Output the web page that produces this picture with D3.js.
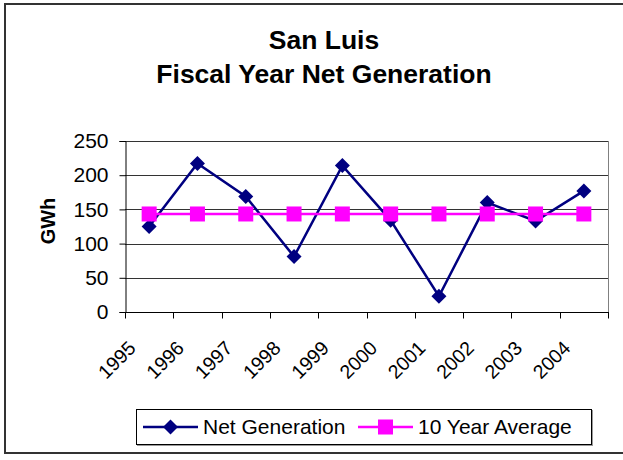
<!DOCTYPE html>
<html>
<head>
<meta charset="utf-8">
<script src="https://cdn.jsdelivr.net/npm/d3@7"></script>
<style>
  html, body { margin: 0; padding: 0; background: #fff; }
  svg { display: block; font-family: "Liberation Sans", Arial, sans-serif; }
</style>
</head>
<body>
<svg id="chart" width="623" height="460"></svg>
<script>
const years = ["1995","1996","1997","1998","1999","2000","2001","2002","2003","2004"];
const netGeneration = [125, 217, 169, 81, 214, 134, 23, 160, 133, 177];
const tenYearAverage = [143.3, 143.3, 143.3, 143.3, 143.3, 143.3, 143.3, 143.3, 143.3, 143.3];
const yTicks = [0, 50, 100, 150, 200, 250];
const titleLines = ["San Luis", "Fiscal Year Net Generation"];
const yTitle = "GWh";
const seriesNames = ["Net Generation", "10 Year Average"];

const svg = d3.select("#chart");
const plot = { left: 125, right: 608, top: 141, bottom: 312 };

// outer frame
svg.append("rect").attr("x", 5).attr("y", 4).attr("width", 640).attr("height", 449)
  .attr("fill", "#fff").attr("stroke", "#333").attr("stroke-width", 2);

const x = d3.scaleBand().domain(years).range([plot.left, plot.right]).padding(0);
const y = d3.scaleLinear().domain([0, 250]).range([plot.bottom, plot.top]);
const cx = d => x(d) + x.bandwidth() / 2;

// gridlines
svg.append("g").selectAll("line").data(yTicks.filter(t => t > 0)).join("line")
  .attr("x1", plot.left).attr("x2", plot.right)
  .attr("y1", d => Math.round(y(d)) + 0.5).attr("y2", d => Math.round(y(d)) + 0.5)
  .attr("stroke", "#333").attr("stroke-width", 1);
// right border
svg.append("line").attr("x1", plot.right + 0.5).attr("x2", plot.right + 0.5)
  .attr("y1", plot.top).attr("y2", plot.bottom).attr("stroke", "#808080");

// y axis
const yAxis = d3.axisLeft(y).tickValues(yTicks).tickSize(6).tickPadding(11);
const gy = svg.append("g").attr("transform", `translate(${plot.left + 0.5},0)`).call(yAxis);
gy.select(".domain").attr("stroke", "#000");
gy.selectAll(".tick line").attr("stroke", "#000");
gy.selectAll(".tick text").attr("font-size", 21).attr("fill", "#000")
  .attr("font-family", "Liberation Sans, Arial, sans-serif");

// x axis with ticks at band boundaries
const gx = svg.append("g").attr("transform", `translate(0,${Math.round(plot.bottom) + 0.5})`);
gx.append("line").attr("x1", plot.left).attr("x2", plot.right + 1).attr("stroke", "#000");
const boundaries = years.map(d => x(d)).concat([plot.right]);
gx.selectAll("line.tk").data(boundaries).join("line").attr("class", "tk")
  .attr("x1", d => Math.round(d) + 0.5).attr("x2", d => Math.round(d) + 0.5)
  .attr("y1", 0).attr("y2", 6).attr("stroke", "#000");
gx.selectAll("text").data(years).join("text")
  .attr("transform", d => `translate(${cx(d) - 17},${32}) rotate(-45)`)
  .attr("text-anchor", "end").attr("dy", "0.35em")
  .attr("font-size", 19.5).attr("fill", "#000").text(d => d);

// y title
svg.append("text").attr("transform", `translate(55,221) rotate(-90)`)
  .attr("text-anchor", "middle").attr("font-weight", "bold").attr("font-size", 20)
  .text(yTitle);

// title
svg.append("g").selectAll("text").data(titleLines).join("text")
  .attr("x", 324).attr("y", (d, i) => 49 + i * 34)
  .attr("text-anchor", "middle").attr("font-weight", "bold").attr("font-size", 26.5)
  .text(d => d);

// series
const navy = "#000080", pink = "#FF00FF";
const line = d3.line().x((d, i) => cx(years[i])).y(d => y(d));
const diamond = r => `M0,${-r}L${r},0L0,${r}L${-r},0Z`;

svg.append("path").datum(netGeneration).attr("d", line)
  .attr("fill", "none").attr("stroke", navy).attr("stroke-width", 2.5);
svg.append("path").datum(tenYearAverage).attr("d", line)
  .attr("fill", "none").attr("stroke", pink).attr("stroke-width", 2.5);

svg.append("g").selectAll("path").data(netGeneration).join("path")
  .attr("transform", (d, i) => `translate(${cx(years[i])},${y(d)})`)
  .attr("d", diamond(7.5)).attr("fill", navy);
svg.append("g").selectAll("rect").data(tenYearAverage).join("rect")
  .attr("x", (d, i) => cx(years[i]) - 7.5).attr("y", d => y(d) - 7.5)
  .attr("width", 15).attr("height", 15).attr("fill", pink);

// legend
const lg = svg.append("g");
lg.append("rect").attr("x", 137.5).attr("y", 410.5).attr("width", 455).attr("height", 35)
  .attr("fill", "none").attr("stroke", "#999").attr("stroke-width", 1);
lg.append("rect").attr("x", 136.5).attr("y", 409.5).attr("width", 455).attr("height", 35)
  .attr("fill", "#fff").attr("stroke", "#000").attr("stroke-width", 1);
const ly = 427;
lg.append("line").attr("x1", 143).attr("x2", 198).attr("y1", ly).attr("y2", ly)
  .attr("stroke", navy).attr("stroke-width", 2.5);
lg.append("path").attr("transform", `translate(170.5,${ly})`).attr("d", diamond(7.5)).attr("fill", navy);
lg.append("text").attr("x", 203).attr("y", ly).attr("dy", "0.35em").attr("font-size", 21).text(seriesNames[0]);
lg.append("line").attr("x1", 358).attr("x2", 413).attr("y1", ly).attr("y2", ly)
  .attr("stroke", pink).attr("stroke-width", 2.5);
lg.append("rect").attr("x", 378).attr("y", ly - 7.5).attr("width", 15).attr("height", 15).attr("fill", pink);
lg.append("text").attr("x", 418).attr("y", ly).attr("dy", "0.35em").attr("font-size", 21).text(seriesNames[1]);
</script>
</body>
</html>
